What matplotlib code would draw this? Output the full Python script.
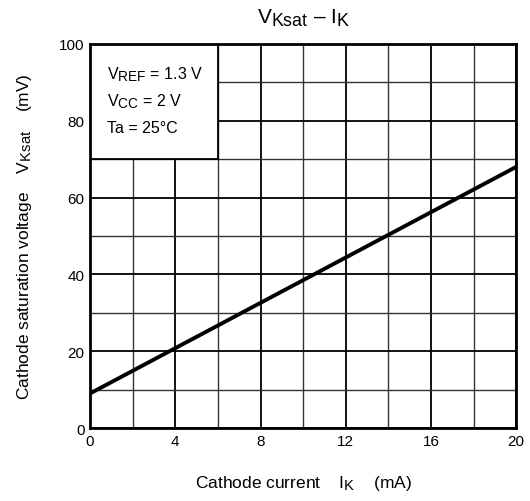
import matplotlib.pyplot as plt
import matplotlib._mathtext as mathtext_internals
from matplotlib.patches import Rectangle
import numpy as np

plt.rcParams['font.family'] = ['Liberation Sans', 'DejaVu Sans']
plt.rcParams['mathtext.fontset'] = 'custom'
plt.rcParams['mathtext.rm'] = 'Liberation Sans'
plt.rcParams['mathtext.it'] = 'Liberation Sans'
# subscripts in the datasheet are almost full size
mathtext_internals.SHRINK_FACTOR = 0.85

# data
ik = [0, 20]          # mA
vksat = [9, 68]       # mV
xticks = [0, 4, 8, 12, 16, 20]
yticks = [0, 20, 40, 60, 80, 100]
conditions = [r'V$_{\mathrm{REF}}$ = 1.3 V', r'V$_{\mathrm{CC}}$ = 2 V', 'Ta = 25°C']

fig = plt.figure(figsize=(5.3, 5.02), dpi=100)
ax = fig.add_axes([0.170, 0.1454, 0.804, 0.765])

ax.set_xlim(0, 20)
ax.set_ylim(0, 100)
ax.set_xticks(xticks)
ax.set_yticks(yticks)
ax.set_xticks(np.arange(2, 20, 4), minor=True)
ax.set_yticks(np.arange(10, 100, 20), minor=True)
ax.grid(True, which='major', color='black', lw=1.3)
ax.grid(True, which='minor', color='#333333', lw=1.0)
ax.tick_params(which='both', length=0, labelsize=11, pad=4)
for s in ax.spines.values():
    s.set_linewidth(2)
ax.set_axisbelow(True)

# condition box covering the grid
ax.add_patch(Rectangle((0, 70), 6, 30, facecolor='white', edgecolor='black',
                       lw=1.3, zorder=1.5))
for txt, yb in zip(conditions, [91, 84, 77.2]):
    ax.text(0.8, yb, txt, fontsize=11.5, va='baseline', zorder=3)

ax.plot(ik, vksat, color='black', lw=2.8, zorder=4, solid_capstyle='butt')

ax.set_title(r'V$_{\mathrm{Ksat}}$ – I$_{\mathrm{K}}$', fontsize=15, pad=15)
ax.set_xlabel(r'Cathode current    I$_{\mathrm{K}}$    (mA)', fontsize=12.5, labelpad=18)
ax.set_ylabel(r'Cathode saturation voltage    V$_{\mathrm{Ksat}}$    (mV)', fontsize=12.5, labelpad=18)

fig.savefig('out.png', dpi=100)
